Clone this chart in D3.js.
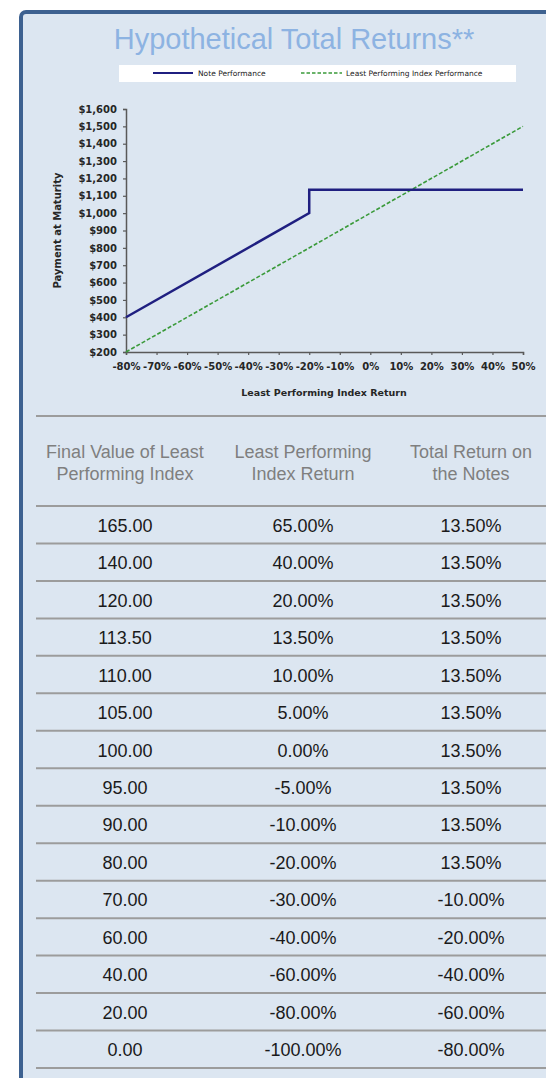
<!DOCTYPE html>
<html>
<head>
<meta charset="utf-8">
<script src="https://cdn.jsdelivr.net/npm/d3@7"></script>
<style>
  html, body { margin: 0; padding: 0; background: #fff; }
  svg { display: block; }
</style>
</head>
<body>
<div id="chart"></div>
<script>
// chart series
const noteReturn = [-80, -20, -20, 50];
const notePayment = [400, 1000, 1135, 1135];
const indexReturn = [-80, 50];
const indexPayment = [200, 1500];

const xTickValues = [-80, -70, -60, -50, -40, -30, -20, -10, 0, 10, 20, 30, 40, 50];
const yTickValues = [200, 300, 400, 500, 600, 700, 800, 900, 1000, 1100, 1200, 1300, 1400, 1500, 1600];

// table columns
const headers = [
    ['Final Value of Least', 'Performing Index'],
    ['Least Performing', 'Index Return'],
    ['Total Return on', 'the Notes'],
];
const finalValues = [165, 140, 120, 113.5, 110, 105, 100, 95, 90, 80, 70, 60, 40, 20, 0];
const indexReturns = [65, 40, 20, 13.5, 10, 5, 0, -5, -10, -20, -30, -40, -60, -80, -100];
const noteReturns = [13.5, 13.5, 13.5, 13.5, 13.5, 13.5, 13.5, 13.5, 13.5, 13.5, -10, -20, -40, -60, -80];

const W = 546, H = 1078;
const svg = d3.select('#chart').append('svg').attr('width', W).attr('height', H);

// panel frame, runs off the right and bottom edges
svg.append('rect')
    .attr('x', 21).attr('y', 12).attr('width', 600).attr('height', 1120)
    .attr('rx', 5)
    .attr('fill', '#dce6f1')
    .attr('stroke', '#3d6190').attr('stroke-width', 4);

svg.append('text')
    .attr('x', 294).attr('y', 49)
    .attr('text-anchor', 'middle')
    .attr('font-family', 'Liberation Sans, Arial, sans-serif')
    .attr('font-size', 29)
    .attr('fill', '#8db3e2')
    .text('Hypothetical Total Returns**');

// legend strip
const legend = svg.append('g');
legend.append('rect').attr('x', 119).attr('y', 65).attr('width', 397).attr('height', 17).attr('fill', '#fff');
legend.append('line').attr('x1', 153).attr('x2', 193).attr('y1', 73).attr('y2', 73)
    .attr('stroke', '#1f1f80').attr('stroke-width', 2.2);
legend.append('text').attr('x', 198).attr('y', 76)
    .attr('font-family', 'DejaVu Sans, sans-serif').attr('font-size', 7.5).attr('fill', '#222')
    .text('Note Performance');
legend.append('line').attr('x1', 301).attr('x2', 342).attr('y1', 73).attr('y2', 73)
    .attr('stroke', '#3a9a3a').attr('stroke-width', 1.4).attr('stroke-dasharray', '3.5 2');
legend.append('text').attr('x', 346).attr('y', 76)
    .attr('font-family', 'DejaVu Sans, sans-serif').attr('font-size', 7.5).attr('fill', '#222')
    .text('Least Performing Index Performance');

// line chart
const x = d3.scaleLinear().domain([-80, 50]).range([126, 523]);
const y = d3.scaleLinear().domain([200, 1600]).range([352, 109]);

const tickFont = (sel) => sel.selectAll('text')
    .attr('font-family', 'DejaVu Sans, sans-serif')
    .attr('font-weight', 'bold')
    .attr('font-size', 10)
    .attr('fill', '#262626');

const yAxis = svg.append('g').attr('transform', `translate(${x(-80)},0)`)
    .call(d3.axisLeft(y).tickValues(yTickValues).tickSize(3).tickPadding(6)
        .tickFormat((d) => '$' + d.toLocaleString('en-US')));
yAxis.call(tickFont);

const xAxis = svg.append('g').attr('transform', `translate(0,${y(200)})`)
    .call(d3.axisBottom(x).tickValues(xTickValues).tickSize(3).tickPadding(8)
        .tickFormat((d) => d + '%'));
xAxis.call(tickFont);

[xAxis, yAxis].forEach((ax) => {
    ax.select('.domain').attr('stroke', '#595959').attr('stroke-width', 1.5);
    ax.selectAll('.tick line').attr('stroke', '#595959').attr('stroke-width', 1.2);
});

svg.append('text')
    .attr('x', 324).attr('y', 396)
    .attr('text-anchor', 'middle')
    .attr('font-family', 'DejaVu Sans, sans-serif').attr('font-weight', 'bold')
    .attr('font-size', 9.5).attr('fill', '#262626')
    .text('Least Performing Index Return');

svg.append('text')
    .attr('transform', `translate(61,${(y(200) + y(1600)) / 2}) rotate(-90)`)
    .attr('text-anchor', 'middle')
    .attr('font-family', 'DejaVu Sans, sans-serif').attr('font-weight', 'bold')
    .attr('font-size', 10).attr('fill', '#262626')
    .text('Payment at Maturity');

const line = d3.line().x((d) => x(d[0])).y((d) => y(d[1]));

svg.append('path')
    .datum(indexReturn.map((r, i) => [r, indexPayment[i]]))
    .attr('d', line)
    .attr('fill', 'none')
    .attr('stroke', '#3a9a3a').attr('stroke-width', 1.6)
    .attr('stroke-dasharray', '4 2');

svg.append('path')
    .datum(noteReturn.map((r, i) => [r, notePayment[i]]))
    .attr('d', line)
    .attr('fill', 'none')
    .attr('stroke', '#1f1f80').attr('stroke-width', 2.5);

// table
const colCenters = [125, 303, 471];
const rowY = d3.scaleBand().domain(d3.range(finalValues.length)).range([506, 1068]);

const rules = [416, ...rowY.domain().map((i) => rowY(i)), rowY.range()[1]];
svg.selectAll('line.rule').data(rules).join('line')
    .attr('class', 'rule')
    .attr('x1', 36).attr('x2', W)
    .attr('y1', (d) => d).attr('y2', (d) => d)
    .attr('stroke', '#9c9c9c').attr('stroke-width', 2);

const head = svg.append('g')
    .attr('font-family', 'Liberation Sans, Arial, sans-serif')
    .attr('font-size', 18).attr('fill', '#7f7f7f')
    .attr('text-anchor', 'middle');
headers.forEach((lines, c) => {
    lines.forEach((t, k) => {
        head.append('text').attr('x', colCenters[c]).attr('y', 458 + k * 22).text(t);
    });
});

// plain hyphen minus, as in the source table
const fmt2 = (v) => v.toFixed(2);
const cells = [
    finalValues.map((v) => fmt2(v)),
    indexReturns.map((v) => fmt2(v) + '%'),
    noteReturns.map((v) => fmt2(v) + '%'),
];
const body = svg.append('g')
    .attr('font-family', 'Liberation Sans, Arial, sans-serif')
    .attr('font-size', 18).attr('fill', '#1a1a1a')
    .attr('text-anchor', 'middle');
cells.forEach((col, c) => {
    body.selectAll(null).data(col).join('text')
        .attr('x', colCenters[c])
        .attr('y', (d, i) => rowY(i) + rowY.bandwidth() / 2 + 7)
        .text((d) => d);
});
</script>
</body>
</html>
